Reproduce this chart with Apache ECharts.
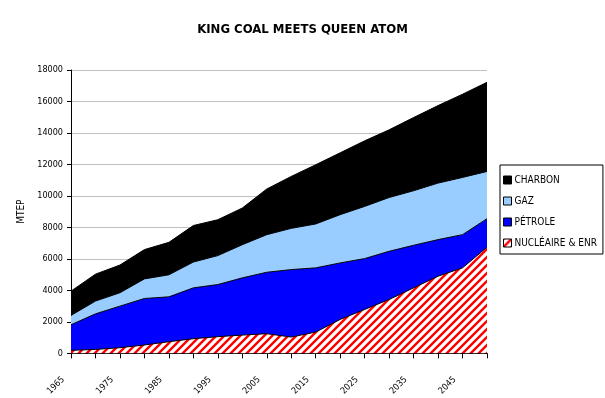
<!DOCTYPE html>
<html>
<head>
<meta charset="utf-8">
<script src="https://cdn.jsdelivr.net/npm/echarts@6/dist/echarts.min.js"></script>
<style>
html,body{margin:0;padding:0;background:#fff;}
#chart{width:605px;height:398px;}
</style>
</head>
<body>
<div id="chart"></div>
<script>
const years = ['1965','1970','1975','1980','1985','1990','1995','2000','2005','2010','2015','2020','2025','2030','2035','2040','2045','2050'];
const nucleaire = [190,250,360,530,740,930,1060,1160,1250,1035,1350,2155,2790,3420,4160,4900,5430,6740];
const petrole = [1625,2260,2640,2955,2850,3230,3310,3635,3900,4285,4080,3590,3230,3065,2705,2325,2110,1815];
const gaz = [595,810,850,1245,1400,1640,1840,2105,2390,2620,2790,3065,3315,3415,3465,3590,3635,3000];
const charbon = [1540,1710,1760,1860,2060,2320,2280,2330,2900,3300,3760,3930,4165,4300,4650,4925,5285,5665];
const yTicks = {min:0, max:18000, interval:2000};

const FONT = 'DejaVu Sans Condensed';

function hatch(){
  const c = document.createElement('canvas');
  c.width = 8; c.height = 8;
  const g = c.getContext('2d');
  g.fillStyle = '#fff';
  g.fillRect(0,0,8,8);
  g.strokeStyle = '#ff0000';
  g.lineWidth = 2.4;
  g.beginPath();
  g.moveTo(-2,10); g.lineTo(10,-2);
  g.moveTo(-6,6); g.lineTo(6,-6);
  g.moveTo(2,14); g.lineTo(14,2);
  g.stroke();
  return {image:c, repeat:'repeat'};
}
const hatchFill = hatch();

function mk(name, data, fill){
  return {
    name: name, type:'line', stack:'total', data:data,
    symbol:'none', smooth:false,
    lineStyle:{color:'#000', width:1},
    itemStyle:{color:fill, borderColor:'#000', borderWidth:1},
    areaStyle:{color:fill, opacity:1},
    emphasis:{disabled:true}
  };
}

const chart = echarts.init(document.getElementById('chart'), null, {renderer:'canvas'});
chart.setOption({
  animation:false,
  backgroundColor:'#fff',
  title:{
    text:'KING COAL MEETS QUEEN ATOM',
    left:'center', top:18,
    textStyle:{fontFamily:FONT, fontWeight:'bold', fontSize:13, color:'#000'}
  },
  legend:{
    orient:'vertical', left:500, top:165,
    data:['CHARBON','GAZ','PÉTROLE','NUCLÉAIRE & ENR'],
    icon:'rect', itemWidth:8, itemHeight:8, itemGap:11,
    padding:[10,6,6,3],
    borderColor:'#000', borderWidth:1,
    itemStyle:{borderColor:'#000', borderWidth:1},
    lineStyle:{width:0},
    textStyle:{fontFamily:FONT, fontSize:10, color:'#000', padding:[0,0,0,-2]},
    selectedMode:false
  },
  grid:{left:71, right:118, top:70, bottom:44, containLabel:false},
  xAxis:{
    type:'category', data:years, boundaryGap:false,
    axisLine:{lineStyle:{color:'#000', width:1}},
    axisTick:{show:true, interval:0, length:5, lineStyle:{color:'#000'}},
    axisLabel:{interval:1, rotate:45, fontFamily:FONT, fontSize:9, color:'#000', margin:17, padding:[0,11,0,0]},
    splitLine:{show:false}
  },
  yAxis:{
    type:'value', min:yTicks.min, max:yTicks.max, interval:yTicks.interval,
    name:'MTEP', nameLocation:'middle', nameRotate:90, nameGap:42,
    nameTextStyle:{fontFamily:FONT, fontSize:10, color:'#000'},
    axisLine:{show:true, lineStyle:{color:'#000', width:1}},
    axisTick:{show:true, length:4, lineStyle:{color:'#000'}},
    axisLabel:{fontFamily:FONT, fontSize:9, color:'#000', margin:8, formatter:function(v){return String(v);}},
    splitLine:{show:true, lineStyle:{color:'#c0c0c0', width:1}}
  },
  series:[
    mk('NUCLÉAIRE & ENR', nucleaire, hatchFill),
    mk('PÉTROLE', petrole, '#0000ff'),
    mk('GAZ', gaz, '#99ccff'),
    mk('CHARBON', charbon, '#000000')
  ]
});
</script>
</body>
</html>
